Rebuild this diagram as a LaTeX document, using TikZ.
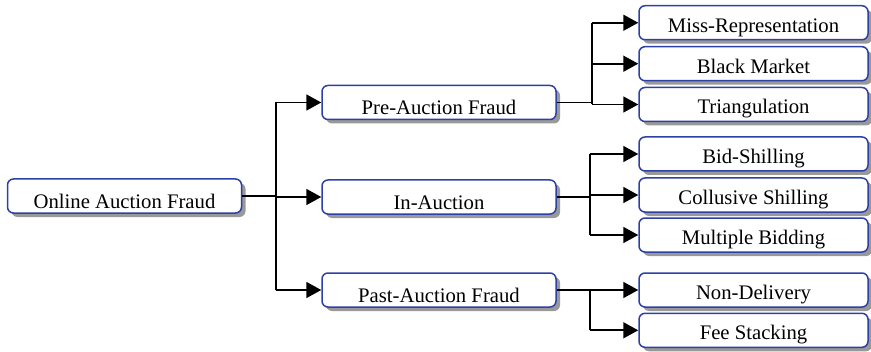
\documentclass[tikz,border=0pt]{standalone}
\usepackage{fontspec}
\setmainfont{Liberation Serif}
\usetikzlibrary{arrows.meta,shadows}
\definecolor{boxblue}{RGB}{45,65,165}
\begin{document}
\begin{tikzpicture}[x=0.5pt,y=-0.5pt,
  base/.style={draw=boxblue, line width=0.75pt, fill=white, rounded corners=3pt,
    inner xsep=2pt, inner ysep=0pt, text depth=0pt,
    font=\fontsize{10.35}{12}\selectfont,
    drop shadow={shadow xshift=2pt, shadow yshift=-2pt, fill=black!40, opacity=1}},
  mainbox/.style={base, minimum width=117pt, minimum height=17pt, text height=12pt},
  leafbox/.style={base, minimum width=114.5pt, minimum height=17pt, text height=9.5pt},
  link/.style={line width=0.85pt, black},
  arr/.style={link, -{Triangle[length=7.5pt,width=8pt]}}]
\useasboundingbox (0,0) rectangle (871,352);

% root and the three phases
\node[mainbox] (root) at (124.5,196) {Online Auction Fraud};
\node[mainbox] (pre)  at (439,102.5) {Pre-Auction Fraud};
\node[mainbox] (in)   at (439,197)   {In-Auction};
\node[mainbox] (past) at (439,290)   {Past-Auction Fraud};

% leaf categories
\node[leafbox] (miss)  at (753.5,22.75) {Miss-Representation};
\node[leafbox] (black) at (753.5,63.7)  {Black Market};
\node[leafbox] (tri)   at (753.5,104.5) {Triangulation};
\node[leafbox] (bid)   at (753.5,154)   {Bid-Shilling};
\node[leafbox] (coll)  at (753.5,195)   {Collusive Shilling};
\node[leafbox] (mult)  at (753.5,235)   {Multiple Bidding};
\node[leafbox] (non)   at (753.5,290)   {Non-Delivery};
\node[leafbox] (fee)   at (753.5,330.3) {Fee Stacking};

% branching points
\coordinate (j0) at (276,196);
\coordinate (j1) at (592,0);
\coordinate (j2) at (590,0);
\coordinate (j3) at (590,0);

% root to phases
\draw[link] (root.east) -- (j0);
\draw[link] (j0 |- pre.west) -- (j0 |- past.west);
\draw[arr] (j0 |- pre.west) -- (pre.west);
\draw[arr] (j0 |- in.west) -- (in.west);
\draw[arr] (j0 |- past.west) -- (past.west);

% pre-auction branch
\draw[link] (pre.east) -- (pre.east -| j1);
\draw[link] (j1 |- miss.west) -- (j1 |- tri.west);
\foreach \n in {miss,black,tri} \draw[arr] (j1 |- \n.west) -- (\n.west);

% in-auction branch
\draw[link] (in.east) -- (in.east -| j2);
\draw[link] (j2 |- bid.west) -- (j2 |- mult.west);
\foreach \n in {bid,coll,mult} \draw[arr] (j2 |- \n.west) -- (\n.west);

% past-auction branch
\draw[link] (past.east) -- (past.east -| j3);
\draw[link] (j3 |- non.west) -- (j3 |- fee.west);
\foreach \n in {non,fee} \draw[arr] (j3 |- \n.west) -- (\n.west);
\end{tikzpicture}
\end{document}
